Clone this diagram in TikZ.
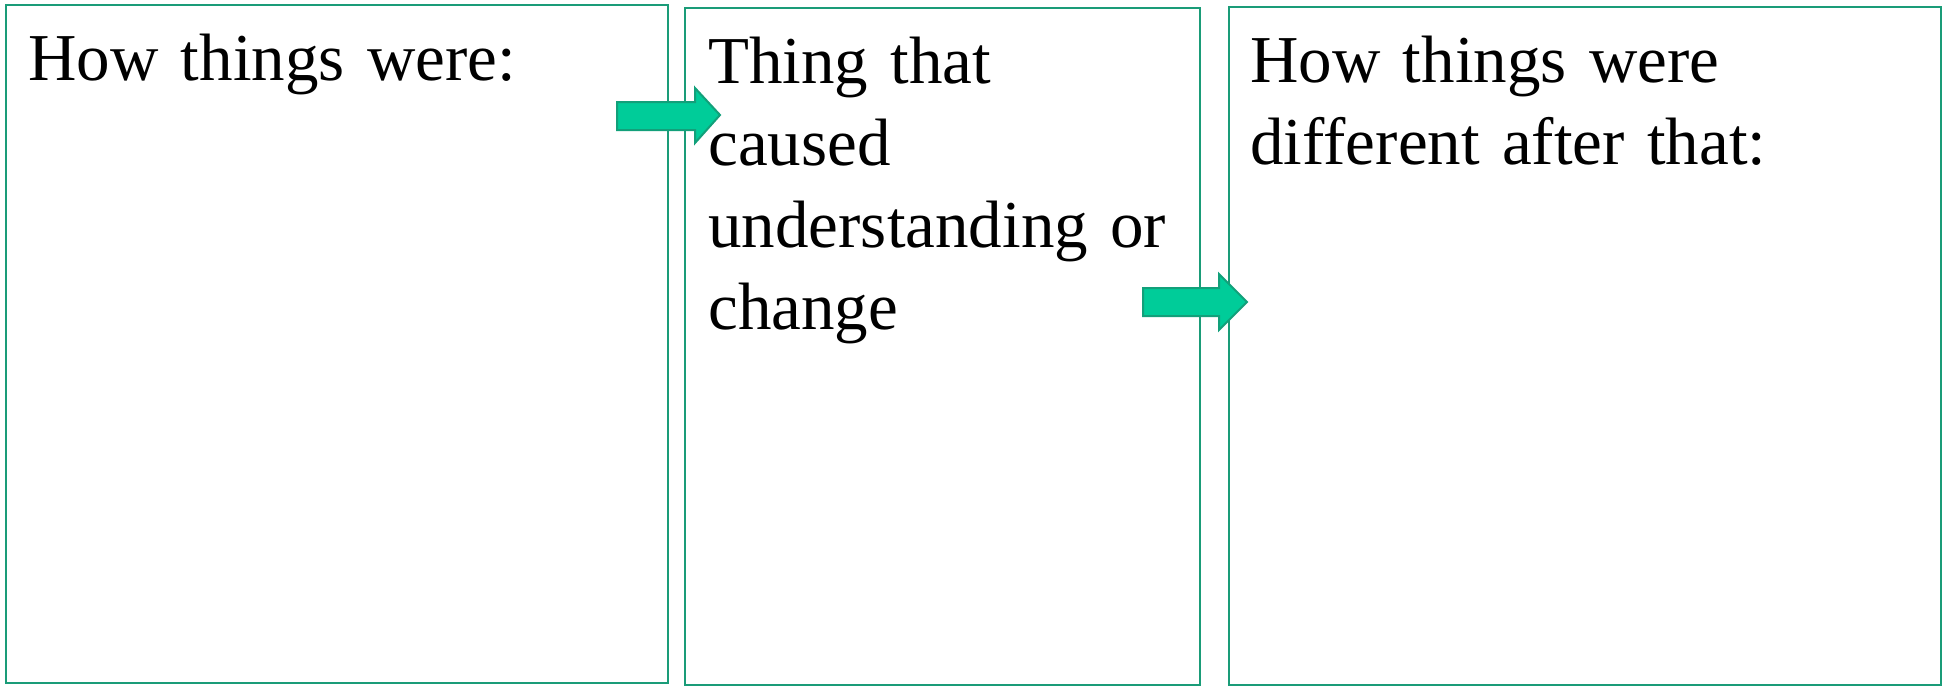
\documentclass[tikz,border=0pt]{standalone}
\usepackage{fontspec}
\setmainfont{Liberation Serif}
\definecolor{boxline}{HTML}{1A9C78}
\definecolor{arrowfill}{HTML}{00CC99}
\definecolor{arrowline}{HTML}{12A07A}
\newcommand\boxfont{\fontsize{33.5}{41}\selectfont\spaceskip=6.9pt\relax}
\tikzset{
	panel/.style = {draw = boxline, line width = 1.1pt},
	blockarrow/.style = {fill = arrowfill, draw = arrowline, line width = 1pt, line join = miter},
	label/.style = {anchor = base west, inner sep = 0pt, align = left, text width = 420pt,
		font = \boxfont}
}
\begin{document}
\begin{tikzpicture}[x = 0.5pt, y = -0.5pt]
\useasboundingbox (0,0) rectangle (1958,686);
% the three boxes
\draw[panel] (6,5) rectangle (668,683);
\draw[panel] (685,8) rectangle (1200,685);
\draw[panel] (1229,7) rectangle (1941,685);
% texts
\node[label] (before) at (28,80) {How things were:};
\node[label] (cause) at (708,83) {Thing that\\caused\\understanding or\\change};
\node[label] (after) at (1250,82) {How things were\\different after that:};
% arrows between the boxes
\draw[blockarrow] (617,102) -- (695,102) -- (695,88) -- (720,115) -- (695,143) -- (695,130) -- (617,130) -- cycle;
\draw[blockarrow] (1143,288) -- (1219,288) -- (1219,274) -- (1247,302) -- (1219,330) -- (1219,316) -- (1143,316) -- cycle;
\end{tikzpicture}
\end{document}
